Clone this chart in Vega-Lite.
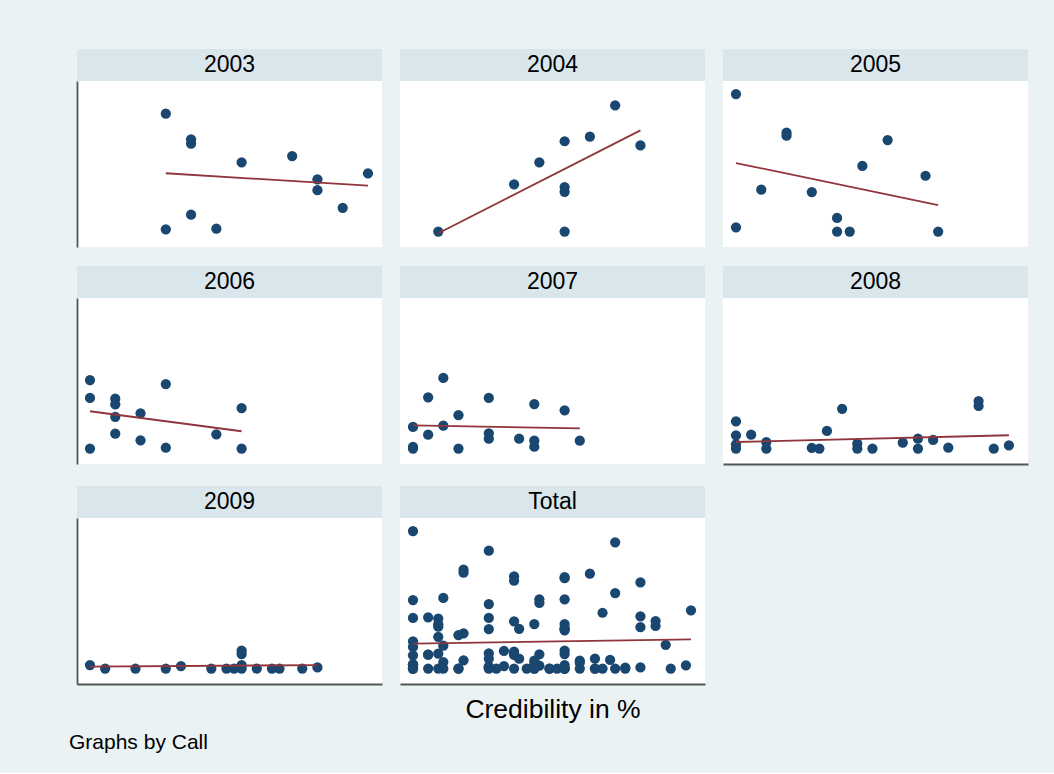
{
  "$schema": "https://vega.github.io/schema/vega-lite/v6.json",
  "background": "#eaf2f3",
  "padding": {"left": 69, "top": 49, "right": 26, "bottom": 20},
  "title": {"text": "Graphs by Call", "orient": "bottom", "anchor": "start", "fontSize": 21, "fontWeight": "normal", "font": "Liberation Sans", "color": "#000000", "offset": 9, "dx": -8},
  "config": {
    "font": "Liberation Sans",
    "view": {"stroke": null},
    "axis": {"domainColor": "#555555", "domainWidth": 1.8, "ticks": false, "labels": false, "grid": false},
    "circle": {"opacity": 1}
  },
  "datasets": {
    "points": [
      {"Call": "2003", "Credibility": 30, "Value": 85.4},
      {"Call": "2003", "Credibility": 40, "Value": 66.8},
      {"Call": "2003", "Credibility": 40, "Value": 63.6},
      {"Call": "2003", "Credibility": 60, "Value": 50.1},
      {"Call": "2003", "Credibility": 80, "Value": 54.7},
      {"Call": "2003", "Credibility": 90, "Value": 37.8},
      {"Call": "2003", "Credibility": 90, "Value": 29.9},
      {"Call": "2003", "Credibility": 100, "Value": 17.2},
      {"Call": "2003", "Credibility": 110, "Value": 42.2},
      {"Call": "2003", "Credibility": 40, "Value": 12.2},
      {"Call": "2003", "Credibility": 30, "Value": 1.6},
      {"Call": "2003", "Credibility": 50, "Value": 2.0},
      {"Call": "2004", "Credibility": 10, "Value": 0},
      {"Call": "2004", "Credibility": 40, "Value": 34.2},
      {"Call": "2004", "Credibility": 50, "Value": 50.1},
      {"Call": "2004", "Credibility": 60, "Value": 65.4},
      {"Call": "2004", "Credibility": 70, "Value": 68.7},
      {"Call": "2004", "Credibility": 80, "Value": 91.4},
      {"Call": "2004", "Credibility": 90, "Value": 62.4},
      {"Call": "2004", "Credibility": 60, "Value": 32.2},
      {"Call": "2004", "Credibility": 60, "Value": 28.8},
      {"Call": "2004", "Credibility": 60, "Value": 0},
      {"Call": "2005", "Credibility": 0, "Value": 99.6},
      {"Call": "2005", "Credibility": 20, "Value": 71.6},
      {"Call": "2005", "Credibility": 20, "Value": 69.4},
      {"Call": "2005", "Credibility": 60, "Value": 66.3},
      {"Call": "2005", "Credibility": 50, "Value": 47.5},
      {"Call": "2005", "Credibility": 75, "Value": 40.4},
      {"Call": "2005", "Credibility": 10, "Value": 30.3},
      {"Call": "2005", "Credibility": 30, "Value": 28.6},
      {"Call": "2005", "Credibility": 40, "Value": 9.8},
      {"Call": "2005", "Credibility": 40, "Value": 0},
      {"Call": "2005", "Credibility": 45, "Value": 0},
      {"Call": "2005", "Credibility": 80, "Value": 0},
      {"Call": "2005", "Credibility": 0, "Value": 3.0},
      {"Call": "2006", "Credibility": 0, "Value": 49.6},
      {"Call": "2006", "Credibility": 0, "Value": 36.6},
      {"Call": "2006", "Credibility": 10, "Value": 36.1},
      {"Call": "2006", "Credibility": 10, "Value": 32.0},
      {"Call": "2006", "Credibility": 10, "Value": 23.0},
      {"Call": "2006", "Credibility": 30, "Value": 46.7},
      {"Call": "2006", "Credibility": 20, "Value": 25.5},
      {"Call": "2006", "Credibility": 60, "Value": 29.3},
      {"Call": "2006", "Credibility": 10, "Value": 10.7},
      {"Call": "2006", "Credibility": 20, "Value": 5.9},
      {"Call": "2006", "Credibility": 50, "Value": 10.3},
      {"Call": "2006", "Credibility": 0, "Value": 0},
      {"Call": "2006", "Credibility": 30, "Value": 0.6},
      {"Call": "2006", "Credibility": 60, "Value": 0},
      {"Call": "2007", "Credibility": 12, "Value": 51.1},
      {"Call": "2007", "Credibility": 6, "Value": 37.1},
      {"Call": "2007", "Credibility": 30, "Value": 36.6},
      {"Call": "2007", "Credibility": 48, "Value": 32.2},
      {"Call": "2007", "Credibility": 60, "Value": 27.7},
      {"Call": "2007", "Credibility": 18, "Value": 24.1},
      {"Call": "2007", "Credibility": 0, "Value": 15.6},
      {"Call": "2007", "Credibility": 12, "Value": 16.5},
      {"Call": "2007", "Credibility": 6, "Value": 10.0},
      {"Call": "2007", "Credibility": 30, "Value": 11.0},
      {"Call": "2007", "Credibility": 30, "Value": 7.1},
      {"Call": "2007", "Credibility": 42, "Value": 7.1},
      {"Call": "2007", "Credibility": 48, "Value": 5.7},
      {"Call": "2007", "Credibility": 48, "Value": 1.3},
      {"Call": "2007", "Credibility": 66, "Value": 5.7},
      {"Call": "2007", "Credibility": 0, "Value": 1.1},
      {"Call": "2007", "Credibility": 0, "Value": 0},
      {"Call": "2007", "Credibility": 18, "Value": 0},
      {"Call": "2008", "Credibility": 0, "Value": 19.7},
      {"Call": "2008", "Credibility": 0, "Value": 9.6},
      {"Call": "2008", "Credibility": 0, "Value": 3.0},
      {"Call": "2008", "Credibility": 0, "Value": 0},
      {"Call": "2008", "Credibility": 6, "Value": 10.0},
      {"Call": "2008", "Credibility": 12, "Value": 4.7},
      {"Call": "2008", "Credibility": 12, "Value": 0},
      {"Call": "2008", "Credibility": 30, "Value": 0.4},
      {"Call": "2008", "Credibility": 33, "Value": 0},
      {"Call": "2008", "Credibility": 36, "Value": 12.7},
      {"Call": "2008", "Credibility": 42, "Value": 28.8},
      {"Call": "2008", "Credibility": 48, "Value": 3.5},
      {"Call": "2008", "Credibility": 48, "Value": 0},
      {"Call": "2008", "Credibility": 54, "Value": 0},
      {"Call": "2008", "Credibility": 66, "Value": 4.2},
      {"Call": "2008", "Credibility": 72, "Value": 7.1},
      {"Call": "2008", "Credibility": 72, "Value": 0},
      {"Call": "2008", "Credibility": 78, "Value": 6.2},
      {"Call": "2008", "Credibility": 84, "Value": 0.6},
      {"Call": "2008", "Credibility": 96, "Value": 34.4},
      {"Call": "2008", "Credibility": 96, "Value": 30.8},
      {"Call": "2008", "Credibility": 102, "Value": 0},
      {"Call": "2008", "Credibility": 108, "Value": 2.3},
      {"Call": "2009", "Credibility": 0, "Value": 2.5},
      {"Call": "2009", "Credibility": 6, "Value": 0},
      {"Call": "2009", "Credibility": 18, "Value": 0},
      {"Call": "2009", "Credibility": 30, "Value": 0},
      {"Call": "2009", "Credibility": 36, "Value": 1.8},
      {"Call": "2009", "Credibility": 48, "Value": 0},
      {"Call": "2009", "Credibility": 54, "Value": 0},
      {"Call": "2009", "Credibility": 57, "Value": 0},
      {"Call": "2009", "Credibility": 60, "Value": 0},
      {"Call": "2009", "Credibility": 60, "Value": 2.5},
      {"Call": "2009", "Credibility": 60, "Value": 12.9},
      {"Call": "2009", "Credibility": 60, "Value": 10.5},
      {"Call": "2009", "Credibility": 66, "Value": 0},
      {"Call": "2009", "Credibility": 72, "Value": 0},
      {"Call": "2009", "Credibility": 75, "Value": 0},
      {"Call": "2009", "Credibility": 84, "Value": 0},
      {"Call": "2009", "Credibility": 90, "Value": 0.8}
    ],
    "fits": [
      {"Call": "2003", "Credibility": 30, "Value": 42.2},
      {"Call": "2003", "Credibility": 110, "Value": 33.2},
      {"Call": "2004", "Credibility": 10, "Value": -1.3},
      {"Call": "2004", "Credibility": 90, "Value": 73.3},
      {"Call": "2005", "Credibility": 0, "Value": 49.6},
      {"Call": "2005", "Credibility": 80, "Value": 19.2},
      {"Call": "2006", "Credibility": 0, "Value": 27.0},
      {"Call": "2006", "Credibility": 60, "Value": 12.5},
      {"Call": "2007", "Credibility": 0, "Value": 16.8},
      {"Call": "2007", "Credibility": 66, "Value": 14.6},
      {"Call": "2008", "Credibility": 0, "Value": 4.7},
      {"Call": "2008", "Credibility": 108, "Value": 9.6},
      {"Call": "2009", "Credibility": 0, "Value": 1.3},
      {"Call": "2009", "Credibility": 90, "Value": 2.5},
      {"Call": "Total", "Credibility": 0, "Value": 18.0},
      {"Call": "Total", "Credibility": 110, "Value": 21.1}
    ]
  },
  "vconcat": [
    {
      "vconcat": [
        {
          "hconcat": [
            {
              "spacing": 0,
              "vconcat": [
                {"data": {"values": [{"Call": "2003"}]}, "width": 305, "height": 32, "view": {"fill": "#d9e6eb", "stroke": null}, "mark": {"type": "text", "fontSize": 23, "color": "#000000"}, "encoding": {"text": {"field": "Call"}}},
                {
                  "width": 305, "height": 166, "view": {"fill": "#ffffff", "stroke": null},
                  "encoding": {
                    "x": {"field": "Credibility", "type": "quantitative", "scale": {"domain": [-5.14, 115.55], "nice": false, "zero": false}, "axis": null},
                    "y": {"field": "Value", "type": "quantitative", "scale": {"domain": [-11.23, 109.06], "nice": false, "zero": false}, "axis": {"title": null}}
                  },
                  "layer": [
                    {"data": {"name": "points"}, "transform": [{"filter": "datum.Call === '2003'"}], "mark": {"type": "circle", "size": 105, "color": "#1a476f"}},
                    {"data": {"name": "fits"}, "transform": [{"filter": "datum.Call === '2003'"}], "mark": {"type": "line", "color": "#90353b", "strokeWidth": 1.8}, "encoding": {}}
                  ]
                }
              ]
            },
            {
              "spacing": 0,
              "vconcat": [
                {"data": {"values": [{"Call": "2004"}]}, "width": 305, "height": 32, "view": {"fill": "#d9e6eb", "stroke": null}, "mark": {"type": "text", "fontSize": 23, "color": "#000000"}, "encoding": {"text": {"field": "Call"}}},
                {
                  "width": 305, "height": 166, "view": {"fill": "#ffffff", "stroke": null},
                  "encoding": {
                    "x": {"field": "Credibility", "type": "quantitative", "scale": {"domain": [-5.14, 115.55], "nice": false, "zero": false}, "axis": null},
                    "y": {"field": "Value", "type": "quantitative", "scale": {"domain": [-11.23, 109.06], "nice": false, "zero": false}, "axis": null}
                  },
                  "layer": [
                    {"data": {"name": "points"}, "transform": [{"filter": "datum.Call === '2004'"}], "mark": {"type": "circle", "size": 105, "color": "#1a476f"}},
                    {"data": {"name": "fits"}, "transform": [{"filter": "datum.Call === '2004'"}], "mark": {"type": "line", "color": "#90353b", "strokeWidth": 1.8}, "encoding": {}}
                  ]
                }
              ]
            },
            {
              "spacing": 0,
              "vconcat": [
                {"data": {"values": [{"Call": "2005"}]}, "width": 305, "height": 32, "view": {"fill": "#d9e6eb", "stroke": null}, "mark": {"type": "text", "fontSize": 23, "color": "#000000"}, "encoding": {"text": {"field": "Call"}}},
                {
                  "width": 305, "height": 166, "view": {"fill": "#ffffff", "stroke": null},
                  "encoding": {
                    "x": {"field": "Credibility", "type": "quantitative", "scale": {"domain": [-5.14, 115.55], "nice": false, "zero": false}, "axis": null},
                    "y": {"field": "Value", "type": "quantitative", "scale": {"domain": [-11.23, 109.06], "nice": false, "zero": false}, "axis": null}
                  },
                  "layer": [
                    {"data": {"name": "points"}, "transform": [{"filter": "datum.Call === '2005'"}], "mark": {"type": "circle", "size": 105, "color": "#1a476f"}},
                    {"data": {"name": "fits"}, "transform": [{"filter": "datum.Call === '2005'"}], "mark": {"type": "line", "color": "#90353b", "strokeWidth": 1.8}, "encoding": {}}
                  ]
                }
              ]
            }
          ],
          "spacing": 18
        },
        {
          "hconcat": [
            {
              "spacing": 0,
              "vconcat": [
                {"data": {"values": [{"Call": "2006"}]}, "width": 305, "height": 32, "view": {"fill": "#d9e6eb", "stroke": null}, "mark": {"type": "text", "fontSize": 23, "color": "#000000"}, "encoding": {"text": {"field": "Call"}}},
                {
                  "width": 305, "height": 166, "view": {"fill": "#ffffff", "stroke": null},
                  "encoding": {
                    "x": {"field": "Credibility", "type": "quantitative", "scale": {"domain": [-5.14, 115.55], "nice": false, "zero": false}, "axis": null},
                    "y": {"field": "Value", "type": "quantitative", "scale": {"domain": [-11.23, 109.06], "nice": false, "zero": false}, "axis": {"title": null}}
                  },
                  "layer": [
                    {"data": {"name": "points"}, "transform": [{"filter": "datum.Call === '2006'"}], "mark": {"type": "circle", "size": 105, "color": "#1a476f"}},
                    {"data": {"name": "fits"}, "transform": [{"filter": "datum.Call === '2006'"}], "mark": {"type": "line", "color": "#90353b", "strokeWidth": 1.8}, "encoding": {}}
                  ]
                }
              ]
            },
            {
              "spacing": 0,
              "vconcat": [
                {"data": {"values": [{"Call": "2007"}]}, "width": 305, "height": 32, "view": {"fill": "#d9e6eb", "stroke": null}, "mark": {"type": "text", "fontSize": 23, "color": "#000000"}, "encoding": {"text": {"field": "Call"}}},
                {
                  "width": 305, "height": 166, "view": {"fill": "#ffffff", "stroke": null},
                  "encoding": {
                    "x": {"field": "Credibility", "type": "quantitative", "scale": {"domain": [-5.14, 115.55], "nice": false, "zero": false}, "axis": null},
                    "y": {"field": "Value", "type": "quantitative", "scale": {"domain": [-11.23, 109.06], "nice": false, "zero": false}, "axis": null}
                  },
                  "layer": [
                    {"data": {"name": "points"}, "transform": [{"filter": "datum.Call === '2007'"}], "mark": {"type": "circle", "size": 105, "color": "#1a476f"}},
                    {"data": {"name": "fits"}, "transform": [{"filter": "datum.Call === '2007'"}], "mark": {"type": "line", "color": "#90353b", "strokeWidth": 1.8}, "encoding": {}}
                  ]
                }
              ]
            },
            {
              "spacing": 0,
              "vconcat": [
                {"data": {"values": [{"Call": "2008"}]}, "width": 305, "height": 32, "view": {"fill": "#d9e6eb", "stroke": null}, "mark": {"type": "text", "fontSize": 23, "color": "#000000"}, "encoding": {"text": {"field": "Call"}}},
                {
                  "width": 305, "height": 166, "view": {"fill": "#ffffff", "stroke": null},
                  "encoding": {
                    "x": {"field": "Credibility", "type": "quantitative", "scale": {"domain": [-5.14, 115.55], "nice": false, "zero": false}, "axis": {"title": null}},
                    "y": {"field": "Value", "type": "quantitative", "scale": {"domain": [-11.23, 109.06], "nice": false, "zero": false}, "axis": null}
                  },
                  "layer": [
                    {"data": {"name": "points"}, "transform": [{"filter": "datum.Call === '2008'"}], "mark": {"type": "circle", "size": 105, "color": "#1a476f"}},
                    {"data": {"name": "fits"}, "transform": [{"filter": "datum.Call === '2008'"}], "mark": {"type": "line", "color": "#90353b", "strokeWidth": 1.8}, "encoding": {}}
                  ]
                }
              ]
            }
          ],
          "spacing": 18
        }
      ],
      "spacing": 19
    },
    {
      "hconcat": [
        {
          "spacing": 0,
          "vconcat": [
            {"data": {"values": [{"Call": "2009"}]}, "width": 305, "height": 32, "view": {"fill": "#d9e6eb", "stroke": null}, "mark": {"type": "text", "fontSize": 23, "color": "#000000"}, "encoding": {"text": {"field": "Call"}}},
            {
              "width": 305, "height": 166, "view": {"fill": "#ffffff", "stroke": null},
              "encoding": {
                "x": {"field": "Credibility", "type": "quantitative", "scale": {"domain": [-5.14, 115.55], "nice": false, "zero": false}, "axis": {"title": null}},
                "y": {"field": "Value", "type": "quantitative", "scale": {"domain": [-11.23, 109.06], "nice": false, "zero": false}, "axis": {"title": null}}
              },
              "layer": [
                {"data": {"name": "points"}, "transform": [{"filter": "datum.Call === '2009'"}], "mark": {"type": "circle", "size": 105, "color": "#1a476f"}},
                {"data": {"name": "fits"}, "transform": [{"filter": "datum.Call === '2009'"}], "mark": {"type": "line", "color": "#90353b", "strokeWidth": 1.8}, "encoding": {}}
              ]
            }
          ]
        },
        {
          "spacing": 0,
          "vconcat": [
            {"data": {"values": [{"Call": "Total"}]}, "width": 305, "height": 32, "view": {"fill": "#d9e6eb", "stroke": null}, "mark": {"type": "text", "fontSize": 23, "color": "#000000"}, "encoding": {"text": {"field": "Call"}}},
            {
              "width": 305, "height": 166, "view": {"fill": "#ffffff", "stroke": null},
              "encoding": {
                "x": {"field": "Credibility", "type": "quantitative", "scale": {"domain": [-5.14, 115.55], "nice": false, "zero": false}, "axis": {"title": "Credibility in %", "titleFontSize": 26.5, "titleFontWeight": "normal", "titleColor": "#000000", "titlePadding": 12}},
                "y": {"field": "Value", "type": "quantitative", "scale": {"domain": [-11.23, 109.06], "nice": false, "zero": false}, "axis": null}
              },
              "layer": [
                {"data": {"name": "points"}, "mark": {"type": "circle", "size": 105, "color": "#1a476f"}},
                {"data": {"name": "fits"}, "transform": [{"filter": "datum.Call === 'Total'"}], "mark": {"type": "line", "color": "#90353b", "strokeWidth": 1.8}, "encoding": {}}
              ]
            }
          ]
        }
      ],
      "spacing": 18
    }
  ],
  "spacing": 22
}
